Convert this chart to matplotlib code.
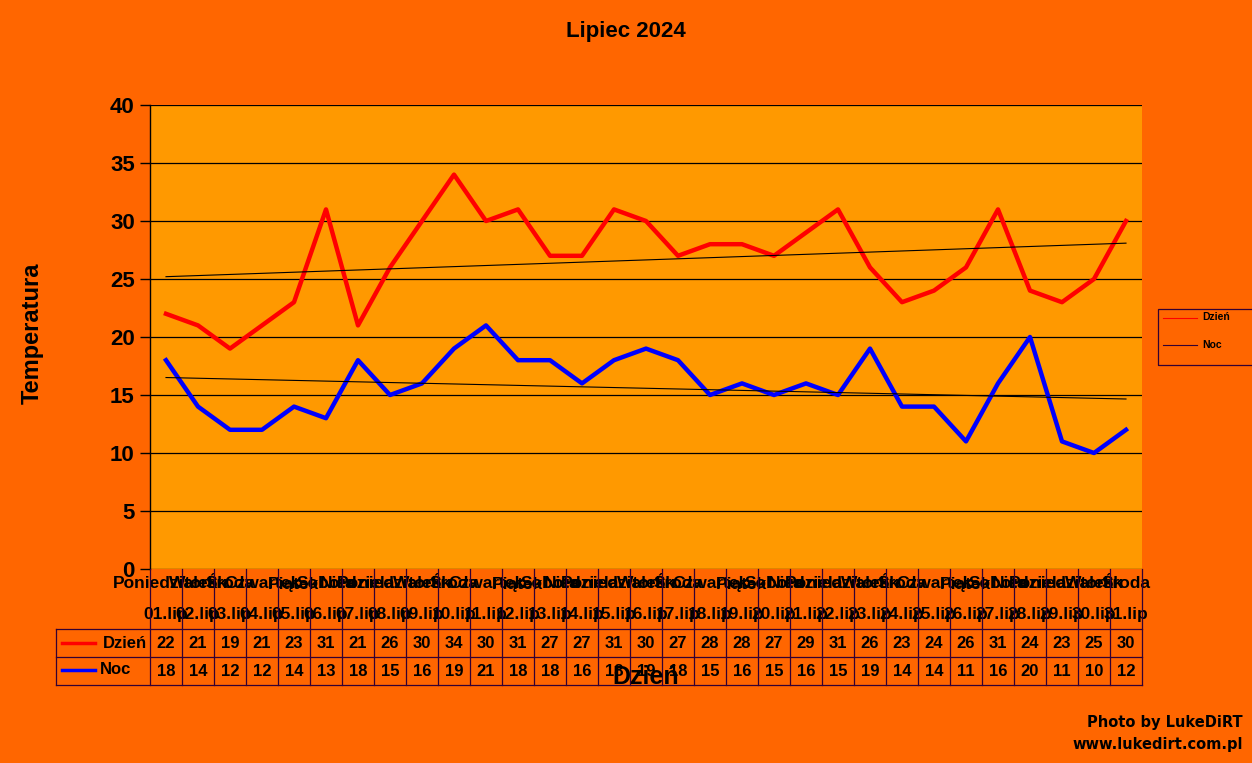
import matplotlib
matplotlib.use("Agg")
import matplotlib.pyplot as plt
import numpy as np
from matplotlib.transforms import blended_transform_factory
from matplotlib.patches import Rectangle
from matplotlib.lines import Line2D

days = ["Poniedziałek", "Wtorek", "Środa", "Czwartek", "Piątek", "Sobota", "Niedziela",
        "Poniedziałek", "Wtorek", "Środa", "Czwartek", "Piątek", "Sobota", "Niedziela",
        "Poniedziałek", "Wtorek", "Środa", "Czwartek", "Piątek", "Sobota", "Niedziela",
        "Poniedziałek", "Wtorek", "Środa", "Czwartek", "Piątek", "Sobota", "Niedziela",
        "Poniedziałek", "Wtorek", "Środa"]
dates = ["01.lip", "02.lip", "03.lip", "04.lip", "05.lip", "06.lip", "07.lip", "08.lip",
         "09.lip", "10.lip", "11.lip", "12.lip", "13.lip", "14.lip", "15.lip", "16.lip",
         "17.lip", "18.lip", "19.lip", "20.lip", "21.lip", "22.lip", "23.lip", "24.lip",
         "25.lip", "26.lip", "27.lip", "28.lip", "29.lip", "30.lip", "31.lip"]
dzien = [22, 21, 19, 21, 23, 31, 21, 26, 30, 34, 30, 31, 27, 27, 31, 30, 27, 28, 28, 27,
         29, 31, 26, 23, 24, 26, 31, 24, 23, 25, 30]
noc = [18, 14, 12, 12, 14, 13, 18, 15, 16, 19, 21, 18, 18, 16, 18, 19, 18, 15, 16, 15,
       16, 15, 19, 14, 14, 11, 16, 20, 11, 10, 12]
yticks = [0, 5, 10, 15, 20, 25, 30, 35, 40]

W, H = 1252, 763
BG = "#FF6600"
PA = "#FF9900"
RED = "#FF0000"
BLUE = "#0000FF"
TBL = "#330033"
FONT = ["Liberation Sans", "DejaVu Sans"]
plt.rcParams["font.family"] = FONT

fig = plt.figure(figsize=(W / 100, H / 100), dpi=100, facecolor=BG)

def fx(px):
    return px / W

def fy(py):
    return 1 - py / H

L, R, T, B = 150, 1142, 105, 569
ax = fig.add_axes([fx(L), fy(B), fx(R) - fx(L), fy(T) - fy(B)])
ax.set_facecolor(PA)

x = np.arange(len(dzien))
ax.set_xlim(-0.5, len(dzien) - 0.5)
ax.set_ylim(0, 40)
ax.set_yticks(yticks)
ax.set_yticklabels([str(v) for v in yticks], fontsize=16, fontweight="bold")
ax.tick_params(axis="y", length=7, width=1, color="black", pad=4)
ax.set_xticks([])
ax.grid(axis="y", color="black", linewidth=0.9)
ax.set_axisbelow(True)
for s in ["top", "right", "bottom"]:
    ax.spines[s].set_visible(False)
ax.spines["left"].set_color("black")
ax.spines["left"].set_linewidth(1)

ax.plot(x, dzien, color=RED, linewidth=3.2, solid_joinstyle="round", zorder=3)
ax.plot(x, noc, color=BLUE, linewidth=3.2, solid_joinstyle="round", zorder=3)

# trend lines
for series in (dzien, noc):
    k, b = np.polyfit(x, series, 1)
    ax.plot(x, k * x + b, color="black", linewidth=0.8, zorder=4)

# category labels and table
tr = blended_transform_factory(ax.transData, fig.transFigure)
for i in range(len(dzien)):
    ax.text(i, fy(584), days[i], transform=tr, ha="center", va="center",
            fontsize=12.5, fontweight="bold", clip_on=False)
    ax.text(i, fy(615), dates[i], transform=tr, ha="center", va="center",
            fontsize=12.5, fontweight="bold", clip_on=False)
    ax.text(i, fy(644), str(dzien[i]), transform=tr, ha="center", va="center",
            fontsize=12, fontweight="bold", clip_on=False)
    ax.text(i, fy(672), str(noc[i]), transform=tr, ha="center", va="center",
            fontsize=12, fontweight="bold", clip_on=False)

for k in range(len(dzien) + 1):
    xv = -0.5 + k
    fig.add_artist(Line2D([xv, xv], [fy(B), fy(685)], transform=tr, color=TBL, linewidth=0.9))
for py in (629, 657, 685):
    fig.add_artist(Line2D([fx(56), fx(R)], [fy(py), fy(py)], color=TBL, linewidth=0.9))
fig.add_artist(Line2D([fx(56), fx(56)], [fy(629), fy(685)], color=TBL, linewidth=0.9))

# table legend keys
fig.add_artist(Line2D([fx(62), fx(95)], [fy(643), fy(643)], color=RED, linewidth=2.5))
fig.text(fx(147), fy(643), "Dzień", ha="right", va="center", fontsize=12, fontweight="bold")
fig.add_artist(Line2D([fx(62), fx(95)], [fy(670), fy(670)], color=BLUE, linewidth=2.5))
fig.text(fx(100), fy(670), "Noc", ha="left", va="center", fontsize=12, fontweight="bold")

# right legend
fig.add_artist(Rectangle((fx(1158), fy(365)), fx(1262) - fx(1158), fy(309) - fy(365),
                         transform=fig.transFigure, facecolor="none", edgecolor=TBL,
                         linewidth=0.9, clip_on=False))
fig.add_artist(Line2D([fx(1163), fx(1197)], [fy(318), fy(318)], color=RED, linewidth=0.8))
fig.text(fx(1202), fy(317), "Dzień", ha="left", va="center", fontsize=7.5, fontweight="bold")
fig.add_artist(Line2D([fx(1163), fx(1197)], [fy(345), fy(345)], color=TBL, linewidth=0.8))
fig.text(fx(1202), fy(345), "Noc", ha="left", va="center", fontsize=7.5, fontweight="bold")

# titles
fig.text(fx(626), fy(32), "Lipiec 2024", ha="center", va="center", fontsize=16, fontweight="bold")
fig.text(fx(32), fy(333), "Temperatura", ha="center", va="center", rotation=90,
         fontsize=17, fontweight="bold")
fig.text(fx(646), fy(677), "Dzień", ha="center", va="center", fontsize=18, fontweight="bold")

fig.text(fx(1243), fy(722), "Photo by LukeDiRT", ha="right", va="center",
         fontsize=10.5, fontweight="bold", family=["DejaVu Sans"])
fig.text(fx(1243), fy(745), "www.lukedirt.com.pl", ha="right", va="center",
         fontsize=10.5, fontweight="bold", family=["DejaVu Sans"])

fig.savefig("out.png", dpi=100, facecolor=BG)
